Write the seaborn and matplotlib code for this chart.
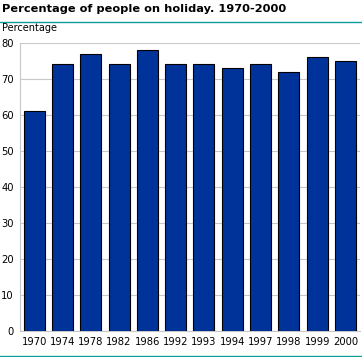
import matplotlib
matplotlib.use("Agg")
import matplotlib.pyplot as plt
import seaborn as sns
import pandas as pd
from matplotlib.lines import Line2D

years = ["1970", "1974", "1978", "1982", "1986", "1992", "1993", "1994", "1997", "1998", "1999", "2000"]
values = [61, 74, 77, 74, 78, 74, 74, 73, 74, 72, 76, 75]
yticks = [0, 10, 20, 30, 40, 50, 60, 70, 80]

title = "Percentage of people on holiday. 1970-2000"
ylabel = "Percentage"

df = pd.DataFrame({"year": years, "value": values})

sns.set_theme(style="white")
plt.rcParams["font.family"] = ["DejaVu Sans"]
plt.rcParams["text.color"] = "black"

W, H = 362, 357
fig = plt.figure(figsize=(W / 100, H / 100), dpi=100)
ax = fig.add_axes([20 / W, 1 - 331 / H, (359.6 - 20) / W, (331 - 42.7) / H])

sns.barplot(data=df, x="year", y="value", color="#003399", saturation=1,
            width=0.74, edgecolor="black", linewidth=0.8, ax=ax, zorder=3)

ax.set_ylim(0, 80)
ax.set_xlim(-0.5, len(years) - 0.5)
ax.set_yticks(yticks)
ax.yaxis.grid(True, color="#c8c8c8", linewidth=0.8, zorder=0)
ax.set_axisbelow(True)
for s in ["top", "right"]:
    ax.spines[s].set_visible(False)
for s in ["left", "bottom"]:
    ax.spines[s].set_color("#c8c8c8")
    ax.spines[s].set_linewidth(0.8)
ax.tick_params(axis="both", length=0, labelsize=7.2, colors="black", labelcolor="black")
ax.tick_params(axis="y", pad=4.5)
ax.tick_params(axis="x", pad=4)
ax.set_xlabel("")
ax.set_ylabel("")

fig.text(2 / W, 1 - 9.5 / H, title, fontsize=8.2, fontweight="bold", color="black", ha="left", va="center")
fig.text(2 / W, 1 - 28 / H, ylabel, fontsize=7, color="black", ha="left", va="center")

fig.add_artist(Line2D([0, 1], [1 - 21.5 / H, 1 - 21.5 / H], color="#109e9a", linewidth=1.0, transform=fig.transFigure))
fig.add_artist(Line2D([0, 1], [1 - 355.5 / H, 1 - 355.5 / H], color="#109e9a", linewidth=1.0, transform=fig.transFigure))

fig.savefig("out.png", dpi=100)
